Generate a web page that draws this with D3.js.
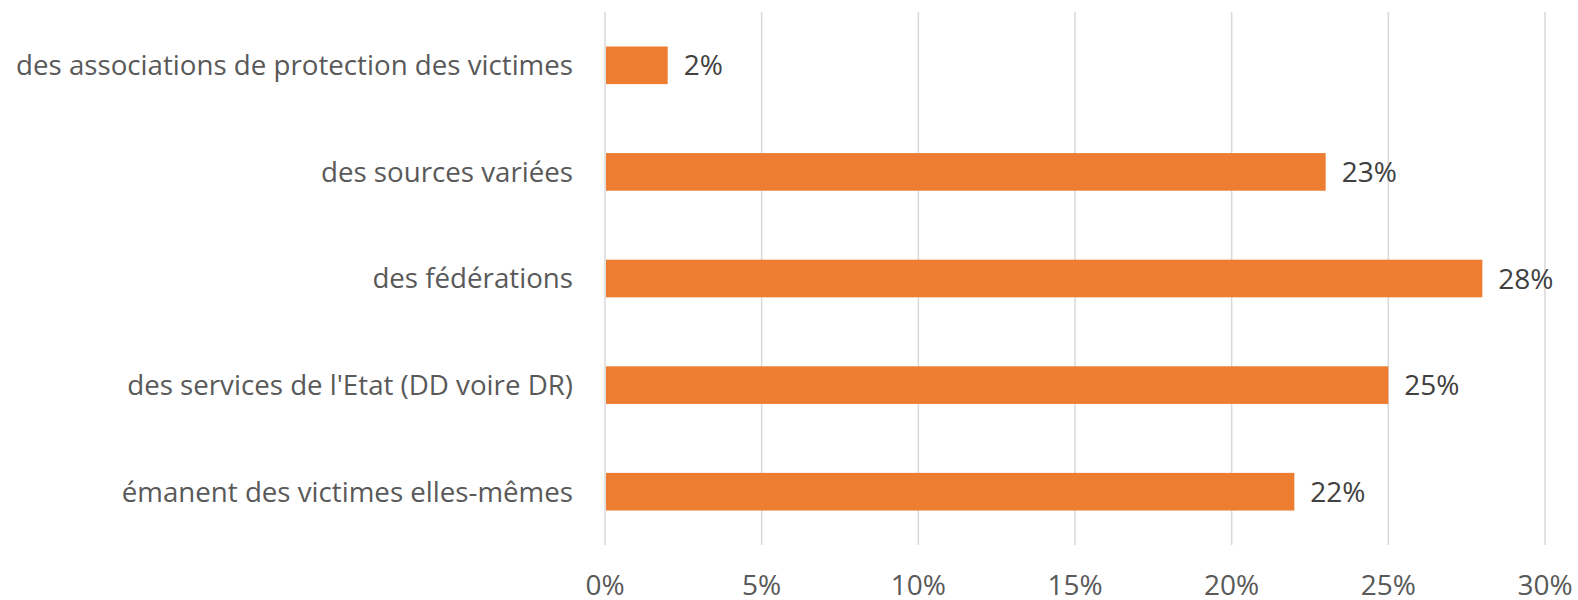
<!DOCTYPE html>
<html><head><meta charset="utf-8">
<script src="https://cdn.jsdelivr.net/npm/d3@7"></script>
<style>body{margin:0;background:#fff}svg{display:block}</style>
</head><body>
<svg id="c" width="1578" height="600"></svg>
<script>
const categories = ["des associations de protection des victimes","des sources variées","des fédérations","des services de l'Etat (DD voire DR)","émanent des victimes elles-mêmes"];
const values = [2, 23, 28, 25, 22];
const ticks = [0, 5, 10, 15, 20, 25, 30];

(function () {
const svg = d3.select("#c");
const pLeft = 605, pRight = 1545, pTop = 12, pBottom = 545;
const x = d3.scaleLinear().domain([0, 30]).range([pLeft, pRight]);
const y = d3.scaleBand().domain(categories).range([pTop, pBottom]).paddingInner(0.647).paddingOuter(0.3235);
const font = "'Open Sans', sans-serif";

svg.append("g").selectAll("line").data(ticks).join("line")
  .attr("x1", d => x(d)).attr("x2", d => x(d)).attr("y1", pTop).attr("y2", pBottom)
  .attr("stroke", "#d9d9d9").attr("stroke-width", 1.5);

svg.append("g").selectAll("text").data(ticks).join("text")
  .attr("x", d => x(d)).attr("y", 595).attr("text-anchor", "middle")
  .attr("font-family", font).attr("font-size", 28).attr("fill", "#595959")
  .text(d => d + "%");

svg.append("g").selectAll("rect").data(values).join("rect")
  .attr("x", x(0) + 1).attr("y", (d, i) => y(categories[i]))
  .attr("width", d => x(d) - x(0) - 1).attr("height", y.bandwidth())
  .attr("fill", "#ED7D31");

svg.append("g").selectAll("text").data(values).join("text")
  .attr("x", d => x(d) + 16).attr("y", (d, i) => y(categories[i]) + y.bandwidth() / 2)
  .attr("dy", "0.36em")
  .attr("font-family", font).attr("font-size", 28).attr("fill", "#404040")
  .text(d => d + "%");

svg.append("g").selectAll("text").data(categories).join("text")
  .attr("x", 573).attr("y", d => y(d) + y.bandwidth() / 2)
  .attr("dy", "0.36em").attr("text-anchor", "end")
  .attr("font-family", font).attr("font-size", 27.7).attr("fill", "#595959")
  .text(d => d);
})();
</script>
</body></html>
